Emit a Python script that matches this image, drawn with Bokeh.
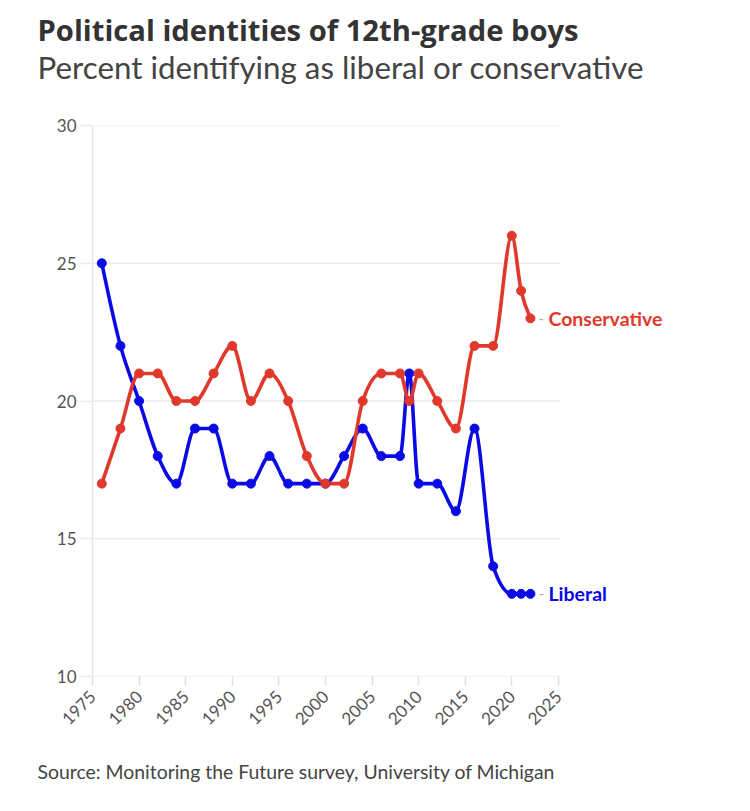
import numpy as np
from bokeh.plotting import figure
from bokeh.models import Label, Range1d, FixedTicker, Title
from bokeh.embed import file_html
from bokeh.resources import INLINE

# ---- data ----
years = [1976, 1978, 1980, 1982, 1984, 1986, 1988, 1990, 1992, 1994, 1996, 1998,
         2000, 2002, 2004, 2006, 2008, 2009, 2010, 2012, 2014, 2016, 2018, 2020,
         2021, 2022]
conservative = [17, 19, 21, 21, 20, 20, 21, 22, 20, 21, 20, 18,
                17, 17, 20, 21, 21, 20, 21, 20, 19, 22, 22, 26,
                24, 23]
liberal = [25, 22, 20, 18, 17, 19, 19, 17, 17, 18, 17, 17,
           17, 18, 19, 18, 18, 21, 17, 17, 16, 19, 14, 13,
           13, 13]
x_ticks = [1975, 1980, 1985, 1990, 1995, 2000, 2005, 2010, 2015, 2020, 2025]
y_ticks = [10, 15, 20, 25, 30]

title_text = "Political identities of 12th-grade boys"
subtitle_text = "Percent identifying as liberal or conservative"
source_text = "Source: Monitoring the Future survey, University of Michigan"

RED = "#e0392c"
BLUE = "#0a0ae6"
FONT = "Lato"
TITLE_FONT = "Open Sans"

X_START, X_AXIS_END, X_VIEW_END = 1975, 2025.2, 2043.9


def monotone_bezier(xs, ys):
    """Monotone-X cubic (as d3.curveMonotoneX) expressed as Bezier segments."""
    xs = np.asarray(xs, float)
    ys = np.asarray(ys, float)
    n = len(xs)
    h = np.diff(xs)
    s = np.diff(ys) / h
    t = np.zeros(n)
    for i in range(1, n - 1):
        h0, h1 = h[i - 1], h[i]
        s0, s1 = s[i - 1], s[i]
        p = (s0 * h1 + s1 * h0) / (h0 + h1)
        t[i] = (np.sign(s0) + np.sign(s1)) * min(abs(s0), abs(s1), 0.5 * abs(p))
    t[0] = (3 * s[0] - t[1]) / 2
    t[-1] = (3 * s[-1] - t[-2]) / 2
    dx = h / 3
    return dict(x0=xs[:-1], y0=ys[:-1], x1=xs[1:], y1=ys[1:],
                cx0=xs[:-1] + dx, cy0=ys[:-1] + dx * t[:-1],
                cx1=xs[1:] - dx, cy1=ys[1:] - dx * t[1:])


p = figure(width=734, height=807,
           x_range=Range1d(X_START, X_VIEW_END), y_range=Range1d(10, 30),
           output_backend="svg", toolbar_location=None,
           min_border_left=92, min_border_right=0,
           min_border_top=125, min_border_bottom=131)
p.outline_line_color = None
p.background_fill_color = "white"
p.border_fill_color = "white"

p.xgrid.grid_line_color = None
p.ygrid.grid_line_color = None

# horizontal grid lines, limited to the axis extent
p.segment(x0=[X_START] * len(y_ticks), x1=[X_AXIS_END] * len(y_ticks),
          y0=y_ticks, y1=y_ticks, line_color="#ebebeb", line_width=1.5,
          level="underlay")

ya = p.yaxis[0]
ya.ticker = FixedTicker(ticks=y_ticks)
ya.axis_line_color = "#e6e6e6"
ya.axis_line_width = 1.5
ya.major_tick_line_color = "#ececec"
ya.major_tick_line_width = 1.5
ya.major_tick_out = 12
ya.major_tick_in = 0
ya.minor_tick_line_color = None
ya.major_label_text_color = "#555555"
ya.major_label_text_font = FONT
ya.major_label_text_font_size = "17px"
ya.major_label_standoff = 4

xa = p.xaxis[0]
xa.ticker = FixedTicker(ticks=x_ticks)
xa.axis_line_color = None
xa.major_tick_line_color = "#e0e0e0"
xa.major_tick_line_width = 1.5
xa.major_tick_out = 9
xa.major_tick_in = 0
xa.minor_tick_line_color = None
xa.major_label_orientation = np.pi / 4
xa.major_label_text_color = "#555555"
xa.major_label_text_font = FONT
xa.major_label_text_font_size = "17px"
xa.major_label_standoff = 8

for vals, col in ((liberal, BLUE), (conservative, RED)):
    segs = monotone_bezier(years, vals)
    p.bezier(source=segs, x0="x0", y0="y0", x1="x1", y1="y1",
             cx0="cx0", cy0="cy0", cx1="cx1", cy1="cy1",
             line_color=col, line_width=3.6, line_cap="round")
for vals, col in ((liberal, BLUE), (conservative, RED)):
    p.scatter(years, vals, size=9, fill_color=col, line_color=col)

# end labels
for vals, col, name in ((conservative, RED, "Conservative"), (liberal, BLUE, "Liberal")):
    p.add_layout(Label(x=years[-1], y=vals[-1], x_offset=8, text="-",
                       text_color="#aaaaaa", text_font=FONT, text_font_size="15px",
                       text_baseline="middle"))
    p.add_layout(Label(x=years[-1], y=vals[-1], x_offset=18, text=name,
                       text_color=col, text_font=FONT, text_font_size="19.5px",
                       text_font_style="bold", text_baseline="middle"))

# titles (stacked outward from the frame): spacer, subtitle, title
p.add_layout(Title(text=" ", text_font=FONT, text_font_size="1px",
                   standoff=37), "above")
p.add_layout(Title(text=subtitle_text, text_font=FONT, text_font_size="31.3px",
                   text_font_style="normal", text_color="#444444",
                   align="left", offset=-55, standoff=0), "above")
p.add_layout(Title(text=title_text, text_font=TITLE_FONT, text_font_size="29.2px",
                   text_font_style="bold", text_color="#333333",
                   align="left", offset=-55, standoff=-8), "above")
p.add_layout(Title(text=source_text, text_font=FONT, text_font_size="19.4px",
                   text_font_style="normal", text_color="#444444",
                   align="left", offset=-55, standoff=49), "below")

open("out.html", "w").write(file_html(p, INLINE))
